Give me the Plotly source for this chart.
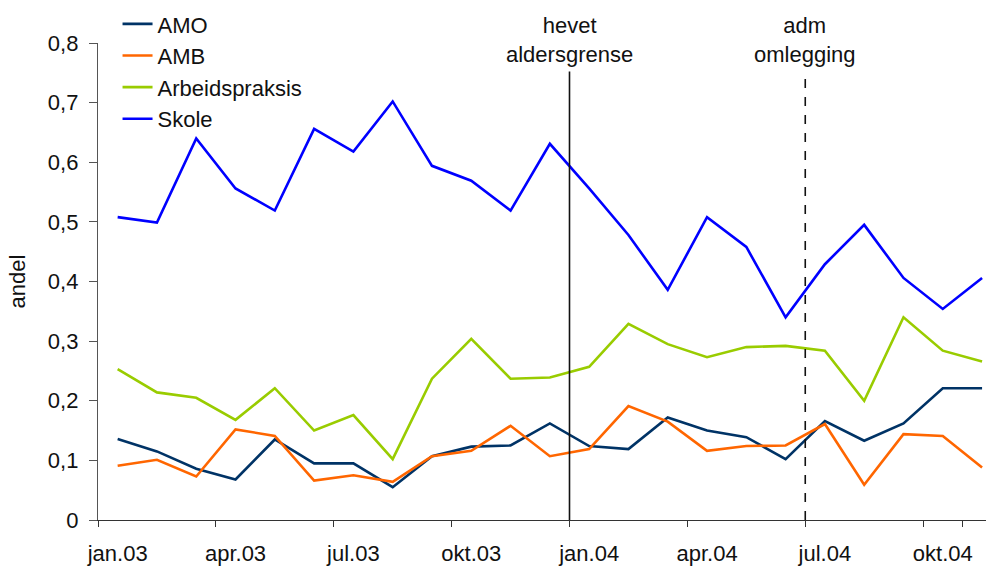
"""Andel i tiltak per måned, jan.03 - nov.04, med to hendelser markert."""
import plotly.graph_objects as go

MONTHS = [
    "jan.03", "feb.03", "mar.03", "apr.03", "mai.03", "jun.03",
    "jul.03", "aug.03", "sep.03", "okt.03", "nov.03", "des.03",
    "jan.04", "feb.04", "mar.04", "apr.04", "mai.04", "jun.04",
    "jul.04", "aug.04", "sep.04", "okt.04", "nov.04",
]
TICK_MONTHS = ["jan.03", "apr.03", "jul.03", "okt.03", "jan.04", "apr.04", "jul.04", "okt.04"]

amo = [0.136, 0.115, 0.086, 0.068, 0.135, 0.095, 0.095, 0.055, 0.107, 0.123, 0.125, 0.162,
       0.124, 0.119, 0.172, 0.150, 0.139, 0.102, 0.166, 0.133, 0.162, 0.221, 0.221]
amb = [0.091, 0.101, 0.073, 0.152, 0.141, 0.066, 0.075, 0.064, 0.107, 0.116, 0.158, 0.107,
       0.119, 0.191, 0.165, 0.116, 0.124, 0.125, 0.161, 0.059, 0.144, 0.141, 0.088]
arbeidspraksis = [0.253, 0.214, 0.205, 0.168, 0.221, 0.150, 0.176, 0.102, 0.237, 0.304, 0.237, 0.239,
                  0.257, 0.329, 0.295, 0.273, 0.290, 0.292, 0.284, 0.200, 0.340, 0.284, 0.266]
skole = [0.508, 0.499, 0.640, 0.556, 0.519, 0.656, 0.618, 0.702, 0.594, 0.569, 0.519, 0.631,
         0.556, 0.478, 0.386, 0.508, 0.458, 0.340, 0.429, 0.495, 0.406, 0.354, 0.406]

# events: month the change starts, label, line dash
EVENT_MONTHS = ["jan.04", "jul.04"]
EVENT_LABELS = ["hevet<br>aldersgrense", "adm<br>omlegging"]
EVENT_DASH = ["solid", "dash"]
EVENT_TOP = 0.752

SERIES = [
    ("AMO", amo, "#003366"),
    ("AMB", amb, "#FF6600"),
    ("Arbeidspraksis", arbeidspraksis, "#99CC00"),
    ("Skole", skole, "#0000FF"),
]

FONT = "Liberation Sans, Arial, sans-serif"
FS = 22

fig = go.Figure()
for name, values, color in SERIES:
    fig.add_trace(
        go.Scatter(
            x=MONTHS,
            y=values,
            name=name,
            mode="lines",
            legendgroup=name,
            line={"color": color, "width": 2.6},
        )
    )

for month, label, dash in zip(EVENT_MONTHS, EVENT_LABELS, EVENT_DASH):
    xpos = MONTHS.index(month) - 0.5
    fig.add_shape(
        type="line",
        x0=xpos, x1=xpos, y0=0, y1=EVENT_TOP,
        xref="x", yref="y",
        line={"color": "#111111", "width": 1.6, "dash": dash},
    )
    fig.add_annotation(
        x=xpos, y=EVENT_TOP,
        xref="x", yref="y",
        text=label,
        showarrow=False,
        yanchor="bottom",
        yshift=3,
        font={"size": FS, "color": "#111111", "family": FONT},
    )

# plot area: top of axis at 43 px, bottom at 520 px; margin t=0 keeps the legend inside
fig.update_layout(
    width=986,
    height=568,
    margin={"l": 98, "r": 0, "t": 0, "b": 48},
    paper_bgcolor="white",
    plot_bgcolor="white",
    separators=",.",
    font={"family": FONT, "size": FS, "color": "#111111"},
    showlegend=True,
    legend={
        "x": 0.022,
        "y": 0.994,
        "xanchor": "left",
        "yanchor": "top",
        "bgcolor": "rgba(0,0,0,0)",
        "font": {"size": FS, "family": FONT},
        "tracegroupgap": 0,
    },
    xaxis={
        "type": "category",
        "range": [-0.5, 22.1],
        "tickvals": TICK_MONTHS,
        "tickson": "boundaries",
        "tickangle": 0,
        "ticks": "outside",
        "ticklen": 6,
        "tickcolor": "#333333",
        "showline": True,
        "linecolor": "#333333",
        "linewidth": 1.3,
        "showgrid": False,
        "zeroline": False,
        "automargin": False,
        "ticklabelstandoff": 13,
    },
    yaxis={
        "domain": [0, 477 / 520],
        "range": [0, 0.8],
        "dtick": 0.1,
        "ticks": "outside",
        "ticklen": 8,
        "tickcolor": "#555555",
        "showline": True,
        "linecolor": "#555555",
        "linewidth": 1.3,
        "showgrid": False,
        "zeroline": False,
        "automargin": False,
        "ticklabelstandoff": 6,
        "title": {"text": "andel", "standoff": 16, "font": {"size": FS}},
    },
)

fig.write_html(
    "out.html",
    config={"displayModeBar": False},
    post_script="document.body.style.margin = '0';",
)
